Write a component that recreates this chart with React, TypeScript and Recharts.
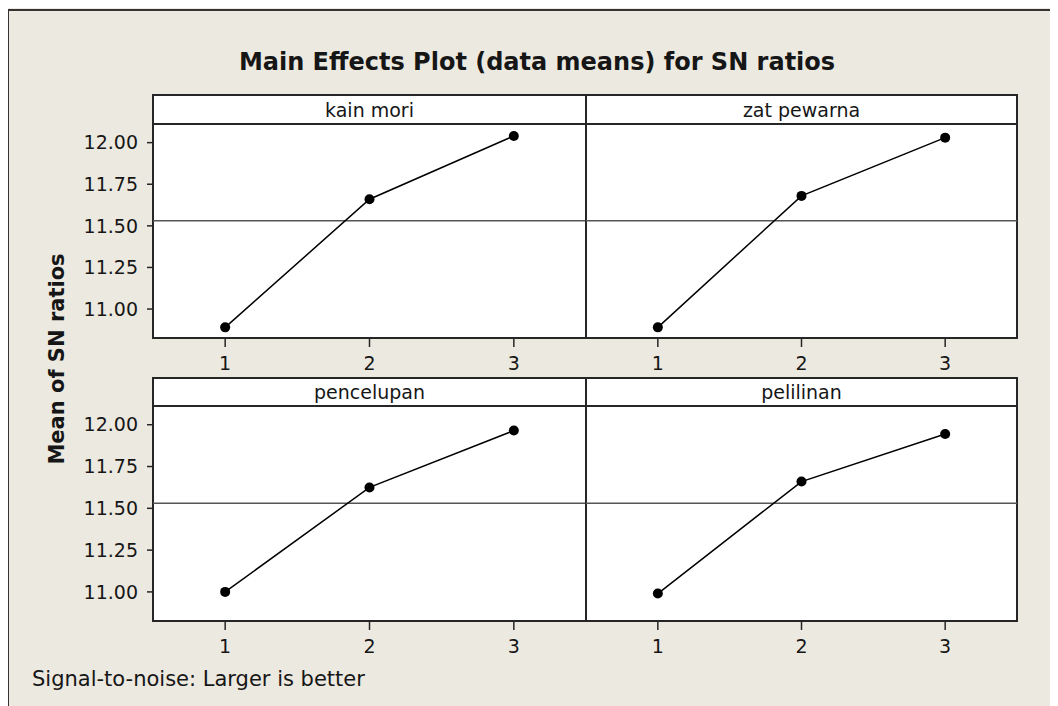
import { Line, LineChart, ReferenceLine, XAxis, YAxis } from "recharts";

const levels = [1, 2, 3];
const kainMori = [10.89, 11.66, 12.04];
const zatPewarna = [10.89, 11.68, 12.03];
const pencelupan = [11.0, 11.625, 11.965];
const pelilinan = [10.99, 11.66, 11.945];
const grandMean = 11.53;
const yTicks = [11, 11.25, 11.5, 11.75, 12];
const xTicks = [1, 2, 3];

const font = "'DejaVu Sans', Verdana, sans-serif";
const ink = "#161616";
const frame = "#262626";
const yDomain: [number, number] = [10.826, 12.112];

type PanelProps = {
  title: string;
  values: number[];
  left: number;
  right: number;
  top: number;
  stripBottom: number;
  bottom: number;
  showY: boolean;
};

function Panel({ title, values, left, right, top, stripBottom, bottom, showY }: PanelProps) {
  const data = levels.map((level, i) => ({ level, mean: values[i] }));
  const plotH = bottom - stripBottom;
  const chartLeft = showY ? 0 : left;
  const chartW = right - chartLeft;
  return (
    <>
      {/* strip + plot frame */}
      <div
        style={{
          position: "absolute",
          left: left - 1,
          top: top - 1,
          width: right - left + 2,
          height: bottom - top + 2,
          boxSizing: "border-box",
          border: `2px solid ${frame}`,
          background: "#fff",
        }}
      />
      <div
        style={{
          position: "absolute",
          left: left,
          top: stripBottom - 1,
          width: right - left,
          height: 2,
          background: frame,
        }}
      />
      <div
        style={{
          position: "absolute",
          left,
          top,
          width: right - left,
          height: stripBottom - top,
          display: "flex",
          alignItems: "center",
          justifyContent: "center",
          fontSize: 19,
          color: ink,
        }}
      >
        {title}
      </div>
      <div style={{ position: "absolute", left: chartLeft, top: stripBottom }}>
        <LineChart
          width={chartW}
          height={plotH + 45}
          data={data}
          margin={{ top: 0, right: 0, bottom: 0, left: 0 }}
        >
          <XAxis
            dataKey="level"
            type="number"
            domain={[0.5, 3.5]}
            ticks={xTicks}
            height={45}
            axisLine={false}
            tickSize={9}
            tickMargin={10}
            tickLine={{ stroke: frame, strokeWidth: 1.5 }}
            tick={{ fill: ink, fontSize: 19, fontFamily: font }}
          />
          <YAxis
            type="number"
            domain={yDomain}
            ticks={yTicks}
            allowDataOverflow
            hide={!showY}
            width={showY ? left : 0}
            axisLine={false}
            tickSize={6}
            tickMargin={9}
            tickLine={{ stroke: frame, strokeWidth: 1.5 }}
            tick={{ fill: ink, fontSize: 19, fontFamily: font }}
            tickFormatter={(v: number) => v.toFixed(2)}
          />
          <ReferenceLine y={grandMean} stroke="#555" strokeWidth={1.5} />
          <Line
            type="linear"
            dataKey="mean"
            stroke="#000"
            strokeWidth={1.5}
            dot={{ r: 5, fill: "#000", stroke: "none" }}
            isAnimationActive={false}
          />
        </LineChart>
      </div>
    </>
  );
}

export default function App() {
  return (
    <div
      style={{
        position: "relative",
        marginLeft: -8,
        marginTop: -8,
        width: 1058,
        height: 706,
        overflow: "hidden",
        background: "#ECE9E0",
        fontFamily: font,
        color: ink,
      }}
    >
      <div style={{ position: "absolute", left: 7, top: 9, width: 1060, height: 2, background: "#333" }} />
      <div style={{ position: "absolute", left: 7, top: 9, width: 2, height: 700, background: "#333" }} />

      <div
        style={{
          position: "absolute",
          left: 0,
          width: 1074,
          top: 50,
          textAlign: "center",
          fontSize: 24,
          lineHeight: 1,
          fontWeight: "bold",
          whiteSpace: "nowrap",
        }}
      >
        Main Effects Plot (data means) for SN ratios
      </div>

      <div
        style={{
          position: "absolute",
          left: 57,
          top: 359,
          transform: "translate(-50%, -50%) rotate(-90deg)",
          fontSize: 21,
          fontWeight: "bold",
          whiteSpace: "nowrap",
          lineHeight: 1,
        }}
      >
        Mean of SN ratios
      </div>

      <Panel title="kain mori" values={kainMori} left={153} right={586} top={95} stripBottom={124} bottom={338} showY />
      <Panel title="zat pewarna" values={zatPewarna} left={586} right={1017} top={95} stripBottom={124} bottom={338} showY={false} />
      <Panel title="pencelupan" values={pencelupan} left={153} right={586} top={378} stripBottom={406} bottom={621} showY />
      <Panel title="pelilinan" values={pelilinan} left={586} right={1017} top={378} stripBottom={406} bottom={621} showY={false} />

      <div
        style={{
          position: "absolute",
          left: 32,
          top: 669,
          fontSize: 21,
          lineHeight: 1,
          whiteSpace: "nowrap",
        }}
      >
        Signal-to-noise: Larger is better
      </div>
    </div>
  );
}
